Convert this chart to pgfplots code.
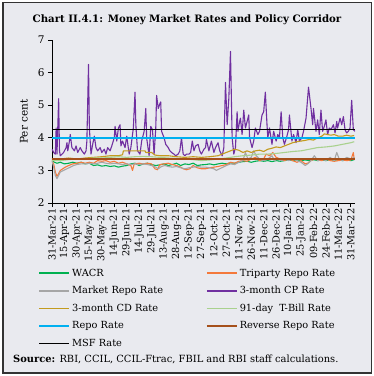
\documentclass[border=0pt]{standalone}
\usepackage{pgfplots}
\pgfplotsset{compat=1.18}
\usepackage{fontspec}
\setmainfont{DejaVu Serif}
\definecolor{bg}{HTML}{E9EAEF}
\definecolor{cwacr}{HTML}{00B050}
\definecolor{ctri}{HTML}{F4793B}
\definecolor{cmkt}{HTML}{A6A6A6}
\definecolor{ccp}{HTML}{7030A0}
\definecolor{ccd}{HTML}{C39B1E}
\definecolor{ctb}{HTML}{A9D18E}
\definecolor{crepo}{HTML}{00B0F0}
\definecolor{crev}{HTML}{A5501B}
\begin{document}
\begin{tikzpicture}[x=1pt,y=1pt]
\fill[white] (0,0) rectangle (374,376);
\filldraw[fill=bg,draw=black!80,line width=1pt] (3,3) rectangle (371,373);
\node[font=\bfseries\fontsize{10.2}{12}\selectfont] at (187,356) {Chart II.4.1: Money Market Rates and Policy Corridor};
\begin{axis}[
  at={(52pt,173pt)}, anchor=south west,
  scale only axis, width=303pt, height=163pt,
  xmin=0, xmax=365, ymin=2, ymax=7,
  axis lines=left, axis line style={-, line width=0.8pt},
  tick align=outside, tick style={black, line width=0.8pt}, major tick length=4pt,
  ytick={2,3,4,5,6,7},
  xtick={0,15,...,360},
  xticklabels={31-Mar-21,15-Apr-21,30-Apr-21,15-May-21,30-May-21,14-Jun-21,29-Jun-21,14-Jul-21,29-Jul-21,13-Aug-21,28-Aug-21,12-Sep-21,27-Sep-21,12-Oct-21,27-Oct-21,11-Nov-21,26-Nov-21,11-Dec-21,26-Dec-21,10-Jan-22,25-Jan-22,09-Feb-22,24-Feb-22,11-Mar-22,31-Mar-22},
  x tick label style={rotate=90, anchor=east, font=\fontsize{9.8}{10}\selectfont, inner sep=1.5pt},
  y tick label style={font=\fontsize{10.5}{12}\selectfont},
  /pgf/number format/assume math mode=true,
  ylabel={Per cent}, ylabel style={font=\fontsize{10.5}{12}\selectfont, at={(axis description cs:-0.068,0.5)}},
  legend columns=2,
  legend cell align=left,
  legend style={at={(axis description cs:-0.045,-0.39)}, anchor=north west, draw=none, fill=none,
    font=\fontsize{9.8}{12}\selectfont, row sep=4.8pt, inner sep=0pt},
  legend image code/.code={\draw[#1, line width=1.6pt] (0pt,0pt) -- (30pt,0pt);},
  every axis plot/.append style={line join=round},
]
\addplot[cwacr, line width=1.1pt] coordinates {(0,3.3)(3,3.25)(6,3.22)(10,3.25)(15,3.2)(20,3.22)(25,3.25)(30,3.22)(35,3.25)(40,3.2)(45,3.22)(50,3.15)(55,3.17)(60,3.13)(65,3.15)(70,3.12)(75,3.14)(80,3.1)(85,3.13)(90,3.15)(95,3.2)(100,3.22)(105,3.15)(110,3.2)(115,3.22)(120,3.18)(125,3.15)(130,3.17)(135,3.2)(140,3.15)(145,3.18)(150,3.22)(155,3.15)(160,3.2)(165,3.18)(170,3.22)(175,3.15)(180,3.17)(185,3.18)(190,3.2)(195,3.17)(200,3.2)(205,3.22)(210,3.2)(215,3.23)(220,3.22)(225,3.25)(230,3.27)(235,3.28)(240,3.25)(245,3.28)(250,3.3)(255,3.28)(260,3.3)(265,3.27)(270,3.3)(275,3.28)(280,3.3)(285,3.32)(290,3.3)(295,3.32)(300,3.3)(305,3.32)(310,3.3)(315,3.33)(320,3.3)(325,3.32)(330,3.3)(335,3.33)(340,3.31)(345,3.33)(350,3.3)(355,3.32)(360,3.3)(364,3.33)};
\addlegendentry{\makebox[132pt][l]{WACR}}
\addplot[ctri, line width=1.1pt] coordinates {(0,3.3)(2,3.2)(4,2.95)(6,2.82)(8,2.9)(10,3.0)(13,3.05)(16,3.1)(20,3.15)(25,3.2)(30,3.22)(35,3.25)(40,3.22)(45,3.25)(50,3.22)(55,3.3)(60,3.28)(65,3.3)(70,3.25)(75,3.28)(80,3.22)(85,3.25)(90,3.2)(95,3.15)(97,3.0)(99,3.2)(105,3.22)(110,3.2)(115,3.22)(120,3.2)(124,3.05)(127,3.02)(130,3.18)(135,3.2)(140,3.22)(145,3.18)(150,3.15)(155,3.1)(158,3.05)(162,3.02)(166,3.05)(170,3.15)(175,3.08)(180,3.05)(185,3.05)(190,3.08)(195,3.1)(200,3.12)(205,3.15)(210,3.18)(215,3.25)(220,3.22)(225,3.28)(230,3.3)(235,3.28)(240,3.35)(245,3.4)(250,3.3)(255,3.35)(258,3.5)(262,3.45)(266,3.55)(270,3.4)(275,3.35)(280,3.3)(285,3.35)(290,3.3)(295,3.25)(300,3.3)(305,3.2)(308,3.22)(312,3.3)(316,3.35)(320,3.32)(325,3.3)(330,3.35)(335,3.3)(340,3.28)(345,3.3)(350,3.32)(355,3.3)(360,3.32)(363,3.55)(364,3.35)};
\addlegendentry{Triparty Repo Rate}
\addplot[cmkt, line width=1.1pt] coordinates {(0,3.3)(2,3.1)(4,2.85)(6,2.75)(8,2.85)(10,2.95)(14,3.0)(18,3.05)(22,3.1)(26,3.15)(30,3.18)(35,3.2)(40,3.2)(45,3.22)(50,3.2)(55,3.22)(60,3.25)(65,3.22)(70,3.2)(75,3.22)(80,3.2)(85,3.18)(90,3.2)(95,3.18)(100,3.2)(105,3.18)(110,3.2)(115,3.18)(120,3.15)(125,3.1)(128,3.05)(132,3.12)(136,3.15)(140,3.12)(145,3.1)(150,3.12)(155,3.08)(160,3.05)(165,3.08)(170,3.1)(175,3.12)(180,3.1)(185,3.1)(190,3.08)(195,3.05)(198,3.0)(202,3.05)(206,3.1)(210,3.15)(215,3.2)(220,3.18)(225,3.25)(230,3.3)(233,3.55)(236,3.35)(240,3.4)(243,3.6)(246,3.45)(250,3.35)(255,3.3)(260,3.35)(265,3.45)(268,3.3)(272,3.35)(276,3.3)(280,3.35)(285,3.3)(290,3.35)(295,3.3)(300,3.25)(305,3.15)(308,3.2)(312,3.3)(316,3.45)(320,3.3)(325,3.35)(330,3.3)(335,3.4)(340,3.3)(343,3.55)(346,3.35)(350,3.3)(355,3.4)(360,3.35)(364,3.4)};
\addlegendentry{\makebox[132pt][l]{Market Repo Rate}}
\addplot[ccp, line width=1.1pt] coordinates {(0,3.65)(2,3.55)(4,3.5)(5,4.3)(6,3.5)(7,4.35)(8,5.2)(9,3.6)(10,3.45)(12,3.5)(14,3.55)(17,3.7)(18,3.85)(19,3.6)(21,3.9)(22,4.1)(24,3.7)(27,3.6)(29,3.75)(31,3.55)(34,3.7)(36,3.6)(39,3.5)(41,3.6)(42,3.9)(44,6.25)(45,4.3)(47,3.5)(49,3.8)(51,4.05)(53,3.7)(55,3.6)(58,3.7)(60,3.55)(63,3.65)(65,3.5)(67,3.7)(70,3.6)(72,3.75)(75,4.0)(76,4.35)(78,3.9)(80,4.3)(82,4.4)(83,3.75)(85,3.9)(88,3.7)(90,4.05)(93,3.5)(95,3.7)(98,4.3)(100,5.4)(101,4.4)(103,3.6)(106,3.5)(108,3.9)(111,4.2)(113,4.9)(114,4.0)(117,3.45)(119,4.35)(121,4.25)(123,3.5)(125,4.3)(126,5.3)(128,4.9)(130,5.05)(131,5.1)(132,4.2)(135,4.0)(137,3.8)(140,3.7)(142,3.6)(144,3.55)(147,3.5)(149,3.45)(152,3.5)(154,3.6)(156,4.0)(158,3.5)(160,3.45)(162,3.5)(165,3.5)(167,3.55)(169,3.9)(171,3.6)(173,3.75)(176,3.8)(178,3.6)(180,3.5)(183,3.65)(185,3.7)(186,3.95)(189,3.6)(191,3.8)(192,3.9)(195,3.55)(197,3.7)(200,3.85)(202,3.6)(205,3.45)(207,3.7)(209,5.7)(211,4.4)(213,5.2)(215,6.65)(217,4.0)(219,3.5)(221,3.7)(223,4.8)(224,4.2)(226,4.5)(227,4.6)(229,4.1)(231,4.85)(233,4.3)(235,4.5)(237,4.7)(238,4.0)(241,3.7)(243,3.9)(245,4.3)(248,4.1)(250,4.2)(253,4.7)(255,4.8)(257,5.4)(259,4.4)(260,4.0)(262,4.3)(265,3.8)(267,4.2)(270,3.9)(272,4.1)(274,4.0)(276,4.8)(278,4.0)(280,3.8)(283,4.05)(285,4.25)(286,4.7)(289,3.9)(291,4.1)(294,3.85)(296,4.25)(298,3.9)(301,4.0)(303,4.2)(306,4.6)(309,5.55)(312,4.9)(314,4.4)(315,4.9)(318,4.2)(320,4.55)(322,4.1)(324,4.85)(326,4.2)(328,4.35)(330,4.55)(332,4.1)(334,4.3)(336,4.25)(339,4.4)(341,4.15)(343,4.5)(344,4.3)(347,4.6)(349,4.4)(351,4.65)(353,4.25)(355,4.15)(357,4.2)(359,4.3)(361,5.15)(363,4.25)(365,4.2)};
\addlegendentry{3-month CP Rate}
\addplot[ccd, line width=1.1pt] coordinates {(0,3.35)(10,3.35)(20,3.38)(30,3.35)(40,3.38)(50,3.4)(60,3.42)(70,3.45)(80,3.45)(85,3.48)(86,3.6)(100,3.6)(112,3.6)(113,3.55)(120,3.55)(124,3.47)(130,3.45)(140,3.45)(150,3.42)(160,3.4)(170,3.42)(180,3.4)(190,3.42)(200,3.45)(205,3.5)(210,3.55)(215,3.6)(220,3.65)(225,3.62)(230,3.55)(235,3.6)(240,3.55)(245,3.6)(250,3.62)(255,3.58)(260,3.65)(265,3.68)(270,3.72)(275,3.7)(280,3.75)(285,3.8)(290,3.85)(295,3.88)(300,3.9)(305,3.92)(310,3.95)(315,3.93)(320,4.0)(325,4.05)(328,4.12)(332,4.1)(336,4.08)(340,4.1)(345,4.05)(350,4.05)(355,4.08)(360,4.05)(364,4.07)};
\addlegendentry{\makebox[132pt][l]{3-month CD Rate}}
\addplot[ctb, line width=1.1pt] coordinates {(0,3.3)(10,3.3)(20,3.33)(30,3.35)(40,3.35)(50,3.38)(60,3.38)(70,3.4)(80,3.42)(90,3.4)(100,3.42)(110,3.43)(120,3.42)(130,3.4)(140,3.38)(150,3.37)(160,3.35)(170,3.33)(180,3.3)(190,3.32)(200,3.35)(210,3.38)(220,3.42)(230,3.45)(240,3.47)(250,3.5)(260,3.5)(270,3.52)(280,3.55)(290,3.58)(300,3.6)(310,3.65)(320,3.7)(330,3.72)(340,3.75)(350,3.8)(360,3.85)(364,3.88)};
\addlegendentry{91-day\ \ T-Bill Rate}
\addplot[crepo, line width=1.6pt] coordinates {(0,4.0)(365,4.0)};
\addlegendentry{\makebox[132pt][l]{Repo Rate}}
\addplot[crev, line width=1.6pt] coordinates {(0,3.35)(365,3.35)};
\addlegendentry{Reverse Repo Rate}
\addplot[black, line width=1.6pt] coordinates {(0,4.25)(365,4.25)};
\addlegendentry{\makebox[132pt][l]{MSF Rate}}
\end{axis}
\node[anchor=west, font=\fontsize{9.9}{11}\selectfont, inner sep=0pt] at (13,17) {\textbf{Source:} RBI, CCIL, CCIL-Ftrac, FBIL and RBI staff calculations.};
\end{tikzpicture}
\end{document}
